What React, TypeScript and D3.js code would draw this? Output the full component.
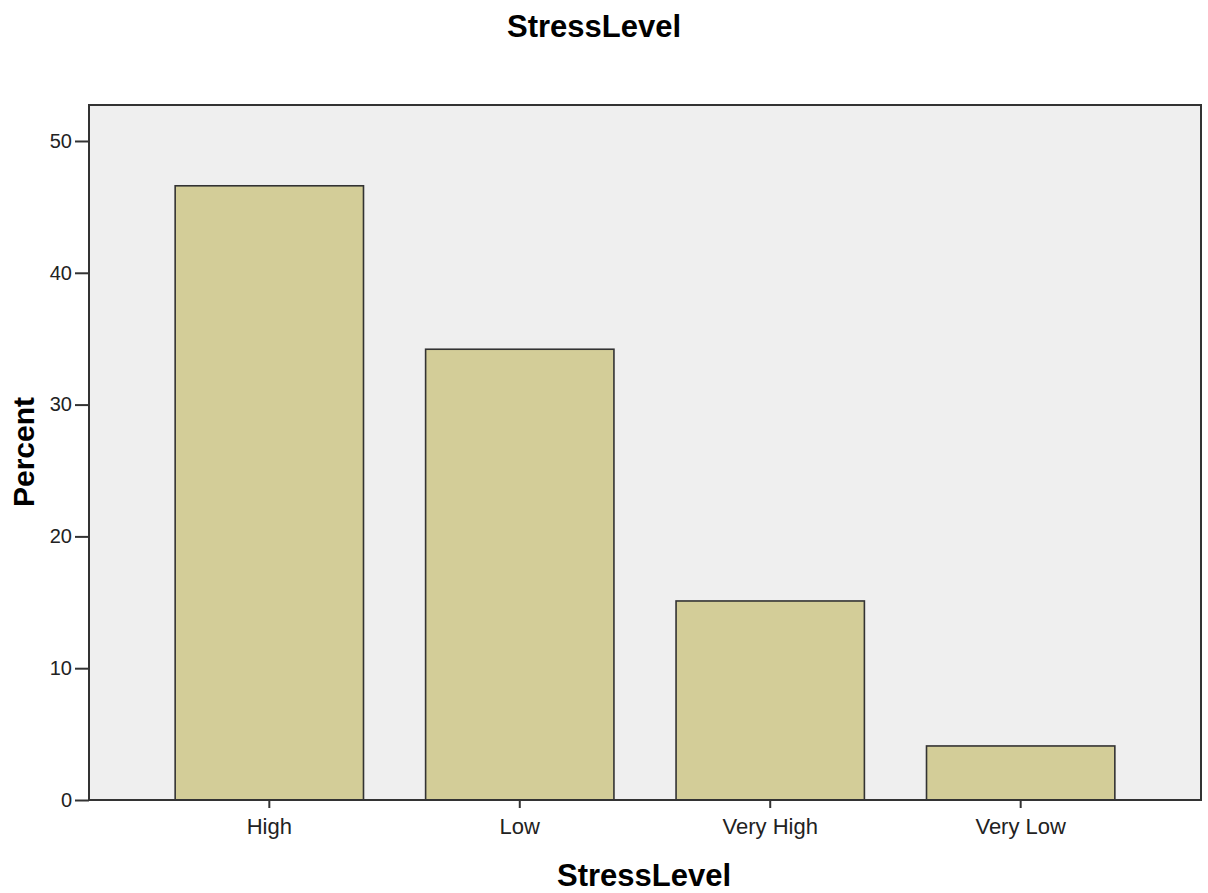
import React, { useEffect, useRef } from 'react';
import * as d3 from 'd3';

// categories and percent values
const categories = ["High", "Low", "Very High", "Very Low"];
const percents = [46.6, 34.2, 15.1, 4.1];
const yTicks = [0, 10, 20, 30, 40, 50];
const chartTitle = "StressLevel";
const xTitle = "StressLevel";
const yTitle = "Percent";

const App = () => {
    const ref = useRef<SVGSVGElement | null>(null);

    useEffect(() => {
        document.body.style.margin = "0";
        drawChart();
    }, []);

    const drawChart = () => {
        var width = 1208, height = 893;
        var left = 89, right = 1201, top = 105, bottom = 800;
        var font = "Arial, 'Liberation Sans', sans-serif";

        var svg = d3.select(ref.current);
        svg.selectAll("*").remove();
        svg.attr("width", width).attr("height", height);

        var x = d3.scaleBand<string>()
            .domain(categories)
            .range([left, right])
            .paddingInner(0.248)
            .paddingOuter(0.344);
        var y = d3.scaleLinear()
            .domain([0, 52.73])
            .range([bottom, top]);

        // plot background
        svg.append("rect")
            .attr("x", left)
            .attr("y", top)
            .attr("width", right - left)
            .attr("height", bottom - top)
            .attr("fill", "#efefef");

        // bars
        svg.selectAll("rect.bar")
            .data(percents)
            .enter()
            .append("rect")
            .attr("class", "bar")
            .attr("x", (d, i) => x(categories[i]) as number)
            .attr("y", (d) => y(d))
            .attr("width", x.bandwidth())
            .attr("height", (d) => bottom - y(d))
            .attr("fill", "#d3cd98")
            .attr("stroke", "#333")
            .attr("stroke-width", 1.6);

        // frame
        svg.append("rect")
            .attr("x", left)
            .attr("y", top)
            .attr("width", right - left)
            .attr("height", bottom - top)
            .attr("fill", "none")
            .attr("stroke", "#333")
            .attr("stroke-width", 2);

        // y axis
        var yAxis = svg.append("g")
            .attr("transform", `translate(${left},0)`)
            .call(d3.axisLeft(y).tickValues(yTicks).tickSize(14).tickPadding(3).tickFormat(d3.format("d")));
        yAxis.select(".domain").remove();
        yAxis.selectAll("line").attr("stroke", "#333").attr("stroke-width", 2);
        yAxis.selectAll("text")
            .attr("font-family", font)
            .attr("font-size", 20)
            .attr("fill", "#222");

        // x axis
        var xAxis = svg.append("g")
            .attr("transform", `translate(0,${bottom})`)
            .call(d3.axisBottom(x).tickSize(8).tickPadding(10));
        xAxis.select(".domain").remove();
        xAxis.selectAll("line").attr("stroke", "#333").attr("stroke-width", 2);
        xAxis.selectAll("text")
            .attr("font-family", font)
            .attr("font-size", 22)
            .attr("fill", "#222");

        // titles
        svg.append("text")
            .attr("x", 594)
            .attr("y", 37)
            .attr("text-anchor", "middle")
            .attr("font-family", font)
            .attr("font-weight", "bold")
            .attr("font-size", 31)
            .attr("fill", "#000")
            .text(chartTitle);
        svg.append("text")
            .attr("x", 644)
            .attr("y", 886)
            .attr("text-anchor", "middle")
            .attr("font-family", font)
            .attr("font-weight", "bold")
            .attr("font-size", 31)
            .attr("fill", "#000")
            .text(xTitle);
        svg.append("text")
            .attr("transform", "translate(34,452) rotate(-90)")
            .attr("text-anchor", "middle")
            .attr("font-family", font)
            .attr("font-weight", "bold")
            .attr("font-size", 30)
            .attr("fill", "#000")
            .text(yTitle);
    };

    return <svg ref={ref} style={{ display: "block" }}></svg>;
};

export default App;
